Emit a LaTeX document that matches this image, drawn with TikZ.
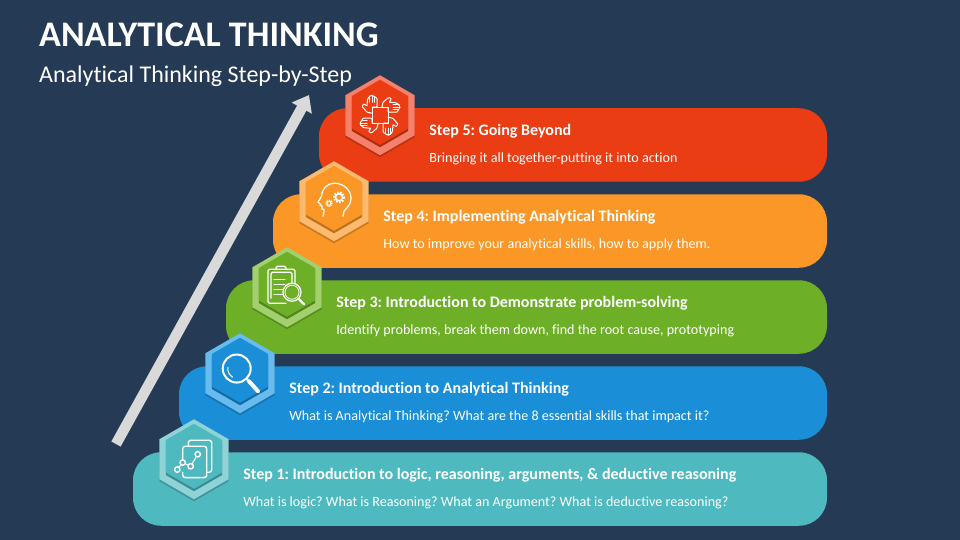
\documentclass[tikz,border=0pt]{standalone}
\usepackage{fontspec}
\setmainfont{Carlito}[Ligatures=NoCommon]
\frenchspacing
\usetikzlibrary{shapes.geometric, arrows.meta, positioning, calc}
\definecolor{slatebg}{HTML}{253A54}
\definecolor{shaftgrey}{HTML}{D9D9D9}
\definecolor{tealbar}{HTML}{4FB9C0}
\definecolor{tealring}{HTML}{8FD3D6}
\definecolor{bluebar}{HTML}{1A8FD8}
\definecolor{bluering}{HTML}{68BBEF}
\definecolor{greenbar}{HTML}{6DAF27}
\definecolor{greenring}{HTML}{A3D06E}
\definecolor{orangebar}{HTML}{FB9726}
\definecolor{orangering}{HTML}{FDB96D}
\definecolor{redbar}{HTML}{EA3D14}
\definecolor{redring}{HTML}{F5806B}

\begin{document}
\begin{tikzpicture}[
    x=1pt, y=-1pt,
    stepbar/.style = {
        rectangle, rounded corners=28pt, minimum height=73.5pt,
        inner sep=0pt, outer sep=0pt
    },
    hexring/.style = {
        regular polygon, regular polygon sides=6, shape border rotate=30,
        minimum size=80pt, inner sep=0pt, outer sep=0pt
    },
    hexcore/.style = {
        regular polygon, regular polygon sides=6, shape border rotate=30,
        minimum size=65pt, inner sep=0pt, outer sep=0pt
    },
    stephead/.style = {
        font=\fontsize{16}{18}\selectfont\bfseries, text=white, inner sep=0pt,
        text height=11pt, text depth=3pt, anchor=west
    },
    stepdesc/.style = {
        font=\fontsize{14.1}{16}\selectfont, text=white, inner sep=0pt,
        text height=10pt, text depth=3pt, anchor=west
    },
    titletext/.style = {text=white, inner sep=0pt, anchor=west},
    icon/.style = {draw=white, line width=1.2pt, line join=round, line cap=round},
    rise/.style = {-{Triangle[length=15pt, width=22pt]}, draw=shaftgrey, line width=10.6pt}
]

% ---- Background ----
\fill[slatebg] (0,0) rectangle (960,540);
\useasboundingbox (0,0) rectangle (960,540);

% ---- Titles ----
\node[titletext, font=\fontsize{36}{40}\selectfont\bfseries] (title) at (39,34.5) {ANALYTICAL THINKING};
\node[titletext, font=\fontsize{24}{28}\selectfont] (subtitle) at (39,76) {Analytical Thinking Step-by-Step};

% ---- Rising arrow ----
\coordinate (risestart) at (116,444);
\coordinate (risetip) at (309,95);
\draw[rise] (risestart) -- (risetip);

% ---- Bars ----
\node[stepbar, fill=redbar, minimum width=508pt] (barfive) at (573,145) {};
\node[stepbar, fill=orangebar, minimum width=554pt, below=12.5pt of barfive.south east, anchor=north east] (barfour) {};
\node[stepbar, fill=greenbar, minimum width=601pt, below=12.5pt of barfour.south east, anchor=north east] (barthree) {};
\node[stepbar, fill=bluebar, minimum width=648pt, below=12.5pt of barthree.south east, anchor=north east] (bartwo) {};
\node[stepbar, fill=tealbar, minimum width=694pt, below=12.5pt of bartwo.south east, anchor=north east] (barone) {};

% ---- Hexagons ----
\foreach \hexname/\hexbar/\ringcol/\corecol in {
    hexone/barone/tealring/tealbar,
    hextwo/bartwo/bluering/bluebar,
    hexthree/barthree/greenring/greenbar,
    hexfour/barfour/orangering/orangebar,
    hexfive/barfive/redring/redbar} {
  \node[hexring, fill=black, opacity=0.2] at ([xshift=61pt,yshift=-9pt]\hexbar.north west) {};
  \node[hexring, fill=\ringcol] (\hexname) at ([xshift=61pt,yshift=-7pt]\hexbar.north west) {};
  \node[hexcore, fill=black!25!\corecol] at ([yshift=0.5pt]\hexname.center) {};
  \node[hexcore, fill=\corecol] (\hexname core) at ([yshift=3pt]\hexname.center) {};
}

% ---- Step texts ----
\node[stephead, right=14.5pt of hexfive.east, yshift=-16.5pt, anchor=west] (headfive) {Step 5: Going Beyond};
\node[stepdesc, below=27.5pt of headfive.west, anchor=west] (descfive) {Bringing it all together-putting it into action};
\node[stephead, right=14.5pt of hexfour.east, yshift=-16.5pt, anchor=west] (headfour) {Step 4: Implementing Analytical Thinking};
\node[stepdesc, below=27.5pt of headfour.west, anchor=west] (descfour) {How to improve your analytical skills, how to apply them.};
\node[stephead, right=14.5pt of hexthree.east, yshift=-16.5pt, anchor=west] (headthree) {Step 3: Introduction to Demonstrate problem-solving};
\node[stepdesc, below=27.5pt of headthree.west, anchor=west] (descthree) {Identify problems, break them down, find the root cause, prototyping};
\node[stephead, right=14.5pt of hextwo.east, yshift=-16.5pt, anchor=west] (headtwo) {Step 2: Introduction to Analytical Thinking};
\node[stepdesc, below=27.5pt of headtwo.west, anchor=west] (desctwo) {What is Analytical Thinking? What are the 8 essential skills that impact it?};
\node[stephead, right=14.5pt of hexone.east, yshift=-16.5pt, anchor=west] (headone) {Step 1: Introduction to logic, reasoning, arguments, \& deductive reasoning};
\node[stepdesc, below=27.5pt of headone.west, anchor=west] (descone) {What is logic? What is Reasoning? What an Argument? What is deductive reasoning?};

% ---- Icon: four hands ----
\begin{scope}[shift={(hexfive.center)}, icon, line width=1pt]
  \draw (-8,-8) rectangle (8,8);
  \foreach \handturn in {0,90,180,270} {
    \begin{scope}[rotate=\handturn]
      \draw[rounded corners=0.8pt] (-8,-8) -- (-3,-8) -- (-3,-17) -- (-5.5,-18.5) -- (-8,-20) -- (-10.5,-19)
        -- (-12.5,-16) -- (-13,-9) -- (-16,-11.5) -- (-18,-9) -- (-13,-3) -- (-8,-2);
      \draw (-5.5,-18.5) -- (-5.5,-13);
      \draw (-8,-20) -- (-8,-13);
      \draw (-10.5,-19) -- (-10.5,-13);
    \end{scope}
  }
\end{scope}

% ---- Icon: head with gears ----
\begin{scope}[shift={(hexfour.center)}, icon]
  \draw (-11,15) .. controls (-10,11) and (-10,10) .. (-10,8) -- (-12,8) -- (-12,5) -- (-14,4) -- (-13,3)
    -- (-16,1) -- (-12.5,-5) .. controls (-12,-13) and (-6,-18) .. (0,-18)
    .. controls (10,-18) and (17,-11) .. (17,-3) .. controls (17,4) and (12,7) .. (10,10) -- (9,15);
  \draw[line width=2.2pt, dash pattern=on 1.5pt off 1.5pt, line cap=butt] (5,-4) circle (5);
  \draw[line width=1.6pt] (5,-4) circle (3.6);
  \draw[line width=1.6pt, dash pattern=on 1pt off 1pt, line cap=butt] (-5,2) circle (3);
  \draw[line width=1pt] (-5,2) circle (2);
\end{scope}

% ---- Icon: clipboard with magnifier ----
\begin{scope}[shift={(hexthree.center)}, icon]
  \draw[rounded corners=1.5pt] (-1,16) -- (-19,16) -- (-19,-18) -- (8,-18) -- (8,-3);
  \draw[rounded corners=1.5pt] (-11,-18) -- (-11,-21) -- (-1,-21) -- (-1,-18);
  \draw[rounded corners=1.5pt] (-16,11) -- (-16,-15) -- (5,-15) -- (5,-4);
  \foreach \rowy in {-8,-3,2,7} {
    \draw (-13,\rowy) -- (-2,\rowy);
  }
  \draw[fill=greenbar] (5,5) circle (9);
  \draw[line width=0.8pt] (5,5) circle (7);
  \draw[line width=2.4pt] (11.5,11.5) -- (17,17);
\end{scope}

% ---- Icon: magnifier ----
\begin{scope}[shift={(hextwo.center)}, icon]
  \draw[line width=2pt] (-3.3,-4.7) circle (14);
  \draw[line width=1pt] (-12,-6) arc (190:120:9.5);
  \draw[line width=2.2pt] (6.5,5.5) -- (9,8);
  \draw[line width=4pt] (9,8) -- (18,18);
\end{scope}

% ---- Icon: pages with linked points ----
\begin{scope}[shift={(hexone.center)}, icon, line width=1.4pt]
  \draw[rounded corners=2.5pt] (-5.7,-13) -- (-5.7,-19) -- (17.7,-19) -- (17.7,13) -- (12.7,13);
  \draw[rounded corners=2.5pt] (-11.3,0.5) -- (-11.3,-13) -- (12.7,-13) -- (12.7,18.3) -- (-11.3,18.3) -- (-11.3,13);
  \draw (-16.7,10.3) circle (2.7);
  \draw (-11.3,3.3) circle (2.7);
  \draw (-3.3,7) circle (2.7);
  \draw (3.7,-5) circle (2.7);
  \draw[line width=1pt] (-15.6,7.9) -- (-12.4,5.7);
  \draw[line width=1pt] (-8.8,4.4) -- (-5.8,5.9);
  \draw[line width=1pt] (-2,4.7) -- (2.4,-2.7);
\end{scope}

\end{tikzpicture}
\end{document}
